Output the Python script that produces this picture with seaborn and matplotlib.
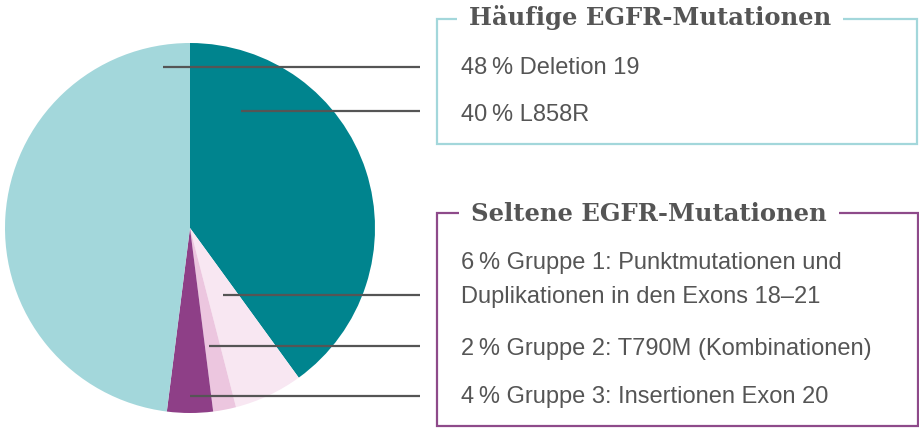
import matplotlib
matplotlib.use("Agg")
import matplotlib.pyplot as plt
from matplotlib.patches import Rectangle
import seaborn as sns

# EGFR mutation shares (clockwise from 12 o'clock)
segments = ["L858R", "Gruppe 1", "Gruppe 2", "Gruppe 3", "Deletion 19"]
shares = [40, 6, 2, 4, 48]
colors = ["#00848E", "#F8E7F2", "#ECC6DF", "#8E3F87", "#A3D7DB"]

common_title = "Häufige EGFR-Mutationen"
common_labels = ["48\u2009% Deletion 19", "40\u2009% L858R"]
rare_title = "Seltene EGFR-Mutationen"
rare_labels = ["6\u2009% Gruppe 1: Punktmutationen und",
               "Duplikationen in den Exons 18–21",
               "2\u2009% Gruppe 2: T790M (Kombinationen)",
               "4\u2009% Gruppe 3: Insertionen Exon 20"]

W, H = 919, 428
text_col = "#555555"

sns.set_theme(style="white")
plt.rcParams['font.family'] = ['Liberation Sans', 'DejaVu Sans']

fig = plt.figure(figsize=(W / 100, H / 100), dpi=100)
ax = fig.add_axes([0, 0, 1, 1])

ax.pie(shares, colors=colors, startangle=90, counterclock=False,
       center=(190, H - 228), radius=185,
       wedgeprops=dict(linewidth=0, antialiased=True))
ax.set_xlim(0, W)
ax.set_ylim(0, H)
ax.set_aspect("equal")
ax.axis("off")

# leader lines (pixel positions, y from top)
leaders = [(163, 67), (241, 111), (223, 295), (209, 346), (190, 396)]
for x0, y0 in leaders:
    ax.plot([x0, 420], [H - y0, H - y0], color=text_col, lw=1.6, solid_capstyle="butt")

# boxes
ax.add_patch(Rectangle((437, H - 144), 480, 125, fill=False, edgecolor="#A3D7DB", lw=1.6))
ax.add_patch(Rectangle((437, H - 426), 481, 213, fill=False, edgecolor="#8E4A8A", lw=1.6))

title_kw = dict(family="DejaVu Serif", weight="bold", fontsize=17.5, color=text_col,
                va="baseline", ha="left",
                bbox=dict(boxstyle="square,pad=0.5", fc="white", ec="none"))
ax.text(469, H - 25, common_title, **title_kw)
ax.text(471, H - 221, rare_title, **title_kw)

body_kw = dict(fontsize=17, color=text_col, va="baseline", ha="left")
for lab, yb in zip(common_labels, [74, 121]):
    ax.text(461, H - yb, lab, **body_kw)
for lab, yb in zip(rare_labels, [269, 303, 355, 403]):
    ax.text(461, H - yb, lab, **body_kw)

fig.savefig("out.png", dpi=100)
